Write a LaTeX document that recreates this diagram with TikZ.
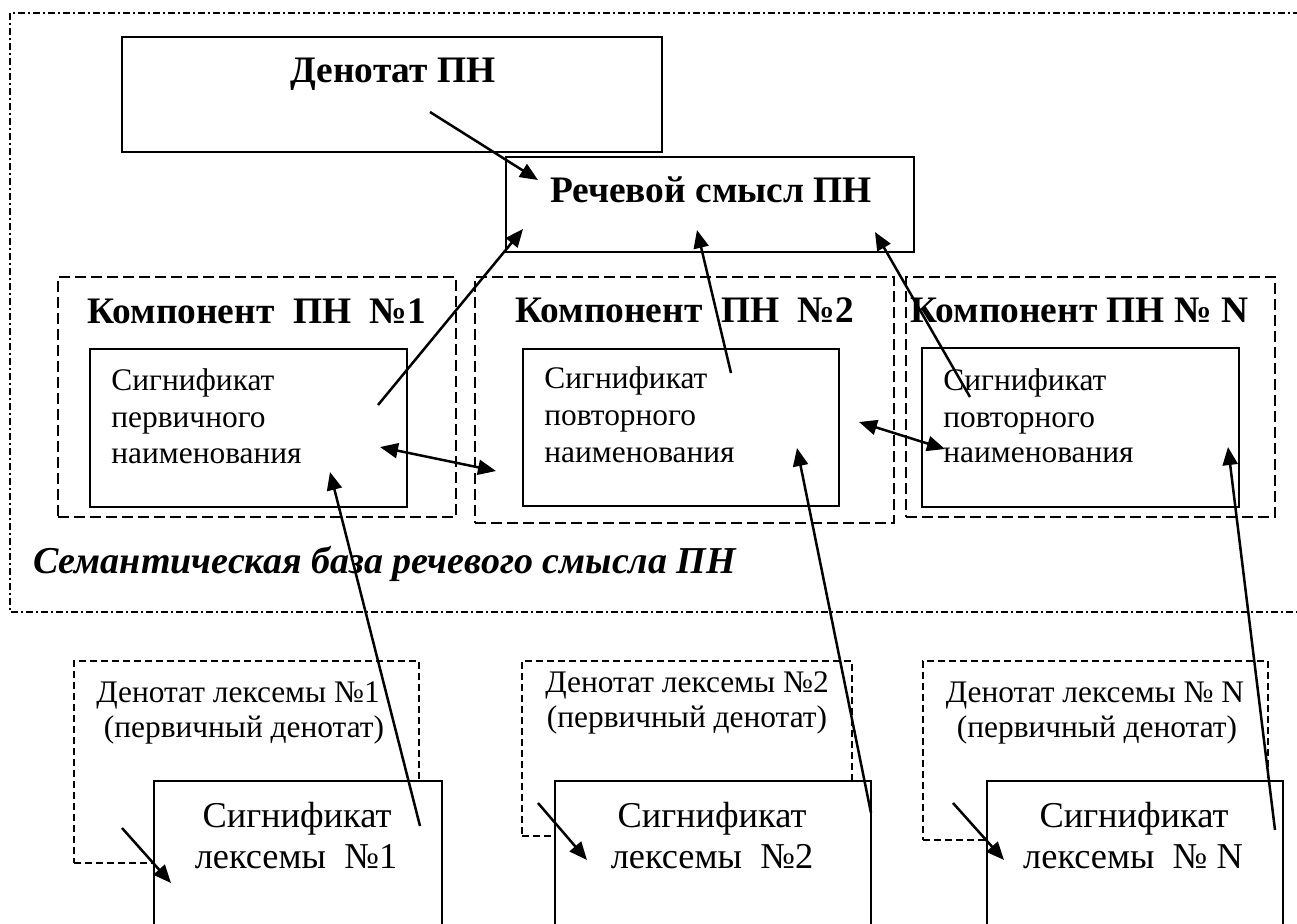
\documentclass[tikz,border=0pt]{standalone}
\usepackage{fontspec}
\setmainfont{Liberation Serif}
\usetikzlibrary{arrows.meta,fit}
\begin{document}
\begin{tikzpicture}[x=0.5pt,y=-0.5pt,
 solidbox/.style={draw, line width=1.1pt, inner sep=0pt, outer sep=0pt},
 compbox/.style={draw, line width=0.85pt, dash pattern=on 5.5pt off 2.5pt, inner sep=0pt, outer sep=0pt},
 denbox/.style={draw, line width=0.75pt, dash pattern=on 3.5pt off 2pt, inner sep=0pt, outer sep=0pt},
 lexbox/.style={draw, fill=white, line width=1.1pt, inner sep=0pt, outer sep=0pt},
 outerline/.style={line width=0.75pt, dash pattern=on 3.5pt off 1.5pt on 1pt off 1.5pt},
 tip/.tip={Triangle[length=9pt,width=7.5pt]},
 arr/.style={line width=1.25pt, -tip},
 darr/.style={line width=1.25pt, tip-tip},
 bigbold/.style={font=\fontsize{18.7}{22}\selectfont\bfseries, inner sep=0pt},
 bolditalic/.style={font=\fontsize{19}{22}\selectfont\bfseries\itshape, inner sep=0pt},
 smalltxt/.style={font=\fontsize{15.7}{18.5}\selectfont, inner sep=0pt},
 lextxt/.style={font=\fontsize{18.2}{21}\selectfont, inner sep=0pt}
]
\useasboundingbox (0,0) rectangle (1297,923);

% outer semantic base frame
\draw[outerline] (1330,13) -- (10,13) -- (10,612) -- (1330,612);

% top boxes
\node[solidbox, fit={(122,37) (662,152)}] (den) {};
\node[solidbox, fit={(506,157) (914,252)}] (rech) {};
\node[bigbold, anchor=base] (dentxt) at (393,82) {Денотат ПН};
\node[bigbold, anchor=base] (rechtxt) at (711,202) {Речевой смысл ПН};

% component boxes
\node[compbox, fit={(58,277) (456,517)}] (comp1) {};
\node[compbox, fit={(475,277) (894,523)}] (comp2) {};
\node[compbox, fit={(906,277) (1275,517)}] (compN) {};
\node[bigbold, anchor=base west] (c1t) at (87,323) {Компонент~~ПН~~№1};
\node[bigbold, anchor=base west] (c2t) at (515,322) {Компонент~~ПН~~№2};
\node[bigbold, anchor=base west] (cNt) at (910,322) {Компонент ПН № N};

% significat boxes
\node[solidbox, fit={(90,349) (407,507)}] (s1) {};
\node[solidbox, fit={(523,349) (839,506)}] (s2) {};
\node[solidbox, fit={(922,348) (1239,507)}] (sN) {};

\node[smalltxt, anchor=base west] (s1a) at (111,390) {Сигнификат};
\node[smalltxt, anchor=base west] (s1b) at (111,427) {первичного};
\node[smalltxt, anchor=base west] (s1c) at (111,463) {наименования};
\node[smalltxt, anchor=base west] (s2a) at (544,388) {Сигнификат};
\node[smalltxt, anchor=base west] (s2b) at (544,425) {повторного};
\node[smalltxt, anchor=base west] (s2c) at (544,462) {наименования};
\node[smalltxt, anchor=base west] (sNa) at (943,390) {Сигнификат};
\node[smalltxt, anchor=base west] (sNb) at (943,427) {повторного};
\node[smalltxt, anchor=base west] (sNc) at (943,462) {наименования};

\node[bolditalic, anchor=base west] (base) at (33,573) {Семантическая база речевого смысла ПН};

% lexeme denotat boxes
\node[denbox, fit={(74,661) (419,863)}] (d1) {};
\node[denbox, fit={(522,661) (852,836)}] (d2) {};
\node[denbox, fit={(923,661) (1268,840)}] (dN) {};
\node[smalltxt, anchor=base] (d1a) at (238,702) {Денотат лексемы №1};
\node[smalltxt, anchor=base] (d1b) at (244,737) {(первичный денотат)};
\node[smalltxt, anchor=base] (d2a) at (687,692) {Денотат лексемы №2};
\node[smalltxt, anchor=base] (d2b) at (687,727) {(первичный денотат)};
\node[smalltxt, anchor=base] (dNa) at (1095,702) {Денотат лексемы № N};
\node[smalltxt, anchor=base] (dNb) at (1097,737) {(первичный денотат)};

% lexeme significat boxes
\node[lexbox, fit={(154,781) (442,960)}] (l1) {};
\node[lexbox, fit={(555,781) (871,960)}] (l2) {};
\node[lexbox, fit={(987,781) (1283,960)}] (lN) {};
\node[lextxt, anchor=base] (l1a) at (297,827) {Сигнификат};
\node[lextxt, anchor=base] (l1b) at (296,868) {лексемы~~№1};
\node[lextxt, anchor=base] (l2a) at (712,827) {Сигнификат};
\node[lextxt, anchor=base] (l2b) at (712,868) {лексемы~~№2};
\node[lextxt, anchor=base] (lNa) at (1134,827) {Сигнификат};
\node[lextxt, anchor=base] (lNb) at (1133,868) {лексемы~~№ N};

% arrow end points
\coordinate (a1s) at (430,112);  \coordinate (a1e) at (538,180);
\coordinate (a2s) at (378,405);  \coordinate (a2e) at (523,229);
\coordinate (a3s) at (731,373);  \coordinate (a3e) at (697,230);
\coordinate (a4s) at (970,397);  \coordinate (a4e) at (875,232);
\coordinate (b1s) at (380,447);  \coordinate (b1e) at (496,471);
\coordinate (b2s) at (859,422);  \coordinate (b2e) at (945,449);
\coordinate (c1s) at (420,826);  \coordinate (c1e) at (330,472);
\coordinate (c2s) at (871,813);  \coordinate (c2e) at (797,448);
\coordinate (c3s) at (1275,830); \coordinate (c3e) at (1228,447);
\coordinate (e1s) at (122,828);  \coordinate (e1e) at (171,883);
\coordinate (e2s) at (538,803);  \coordinate (e2e) at (587,860);
\coordinate (e3s) at (953,803);  \coordinate (e3e) at (1004,860);

\draw[arr] (a1s) -- (a1e);
\draw[arr] (a2s) -- (a2e);
\draw[arr] (a3s) -- (a3e);
\draw[arr] (a4s) -- (a4e);
\draw[darr] (b1s) -- (b1e);
\draw[darr] (b2s) -- (b2e);
\draw[arr] (c1s) -- (c1e);
\draw[arr] (c2s) -- (c2e);
\draw[arr] (c3s) -- (c3e);
\draw[arr] (e1s) -- (e1e);
\draw[arr] (e2s) -- (e2e);
\draw[arr] (e3s) -- (e3e);
\end{tikzpicture}
\end{document}
